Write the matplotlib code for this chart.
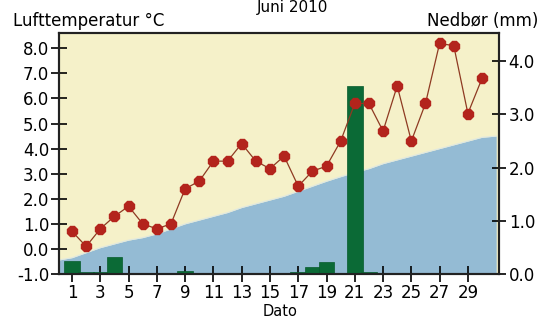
import numpy as np
import matplotlib
matplotlib.use('Agg')
import matplotlib.pyplot as plt

# Daily values for June 2010
days = list(range(1, 31))
air_temp = [0.7, 0.1, 0.8, 1.3, 1.7, 1.0, 0.8, 1.0, 2.4, 2.7,
            3.5, 3.5, 4.2, 3.5, 3.2, 3.7, 2.5, 3.1, 3.3, 4.3,
            5.8, 5.8, 4.7, 6.5, 4.3, 5.8, 8.2, 8.1, 5.4, 6.8]
precip = [0.24, 0.03, 0.03, 0.31, 0, 0, 0, 0, 0.05, 0,
          0, 0, 0, 0, 0, 0, 0.04, 0.14, 0.23, 0,
          3.53, 0.04, 0, 0, 0, 0, 0, 0, 0, 0]

# normal temperature band (blue area), day 0..31
normal_days = list(range(0, 32))
normal_temp = [-0.45, -0.35, -0.15, 0.05, 0.2, 0.35, 0.45, 0.6, 0.8, 1.0,
               1.15, 1.3, 1.45, 1.65, 1.8, 1.95, 2.1, 2.3, 2.5, 2.7,
               2.88, 3.05, 3.2, 3.4, 3.55, 3.7, 3.85, 4.0, 4.15, 4.3,
               4.45, 4.5]

temp_ticks = [-1.0, 0.0, 1.0, 2.0, 3.0, 4.0, 5.0, 6.0, 7.0, 8.0]
precip_ticks = [0.0, 1.0, 2.0, 3.0, 4.0]
day_ticks = list(range(1, 30, 2))

plt.rcParams['font.family'] = ['DejaVu Sans']

fig = plt.figure(figsize=(5.45, 3.2), dpi=100)
ax = fig.add_axes([59 / 545, 1 - 274 / 320, 440 / 545, 241 / 320])
ax.set_facecolor('#f5f1c9')

xlim = (0.08, 31.2)
tlim = (-1.0, 8.61)
plim = (0.0, 4.526)

# normal temperature area
ax.fill_between(normal_days, normal_temp, tlim[0], color='#94bbd4', lw=0)
ax.plot(normal_days, normal_temp, color='#dfe8e2', lw=0.8)
ax.set_xlim(*xlim)
ax.set_ylim(*tlim)
ax.set_yticks(temp_ticks)
ax.set_yticklabels([f'{v:.1f}' for v in temp_ticks])
ax.set_xticks(day_ticks)
ax.tick_params(axis='y', direction='inout', length=12, width=1.2,
               labelsize=12, pad=1)
ax.tick_params(axis='x', direction='inout', length=12, width=1.2,
               labelsize=12, pad=1)

# precipitation bars on right axis
ax2 = ax.twinx()
ax2.bar(days, precip, width=1.1, color='#0b6a36', edgecolor='#075a2c', lw=0.5)
ax2.set_ylim(*plim)
ax2.set_xlim(*xlim)
ax2.set_yticks(precip_ticks)
ax2.set_yticklabels([f'{v:.1f}' for v in precip_ticks])
ax2.tick_params(axis='y', direction='inout', length=10, width=1.2,
                labelsize=12, pad=2)

# temperature line on top
ax3 = ax.twinx()
ax3.plot(days, air_temp, color='#8e3a22', lw=0.9, marker='8',
         markersize=7.5, markerfacecolor='#b3241c', markeredgecolor='#b3241c')
ax3.set_ylim(*tlim)
ax3.set_xlim(*xlim)
ax3.axis('off')

for a in (ax, ax2):
    for s in a.spines.values():
        s.set_linewidth(1.5)
        s.set_color('#222222')

fig.text(293 / 545, 1 - 12 / 320, 'Juni 2010', fontsize=11,
         ha='center', va='baseline')
fig.text(13 / 545, 1 - 26 / 320, 'Lufttemperatur °C', fontsize=12,
         ha='left', va='baseline')
fig.text(538 / 545, 1 - 26 / 320, 'Nedbør (mm)', fontsize=12,
         ha='right', va='baseline')
fig.text(280 / 545, 1 - 316.5 / 320, 'Dato', fontsize=10.5,
         ha='center', va='baseline')

fig.savefig('out.png', dpi=100)
